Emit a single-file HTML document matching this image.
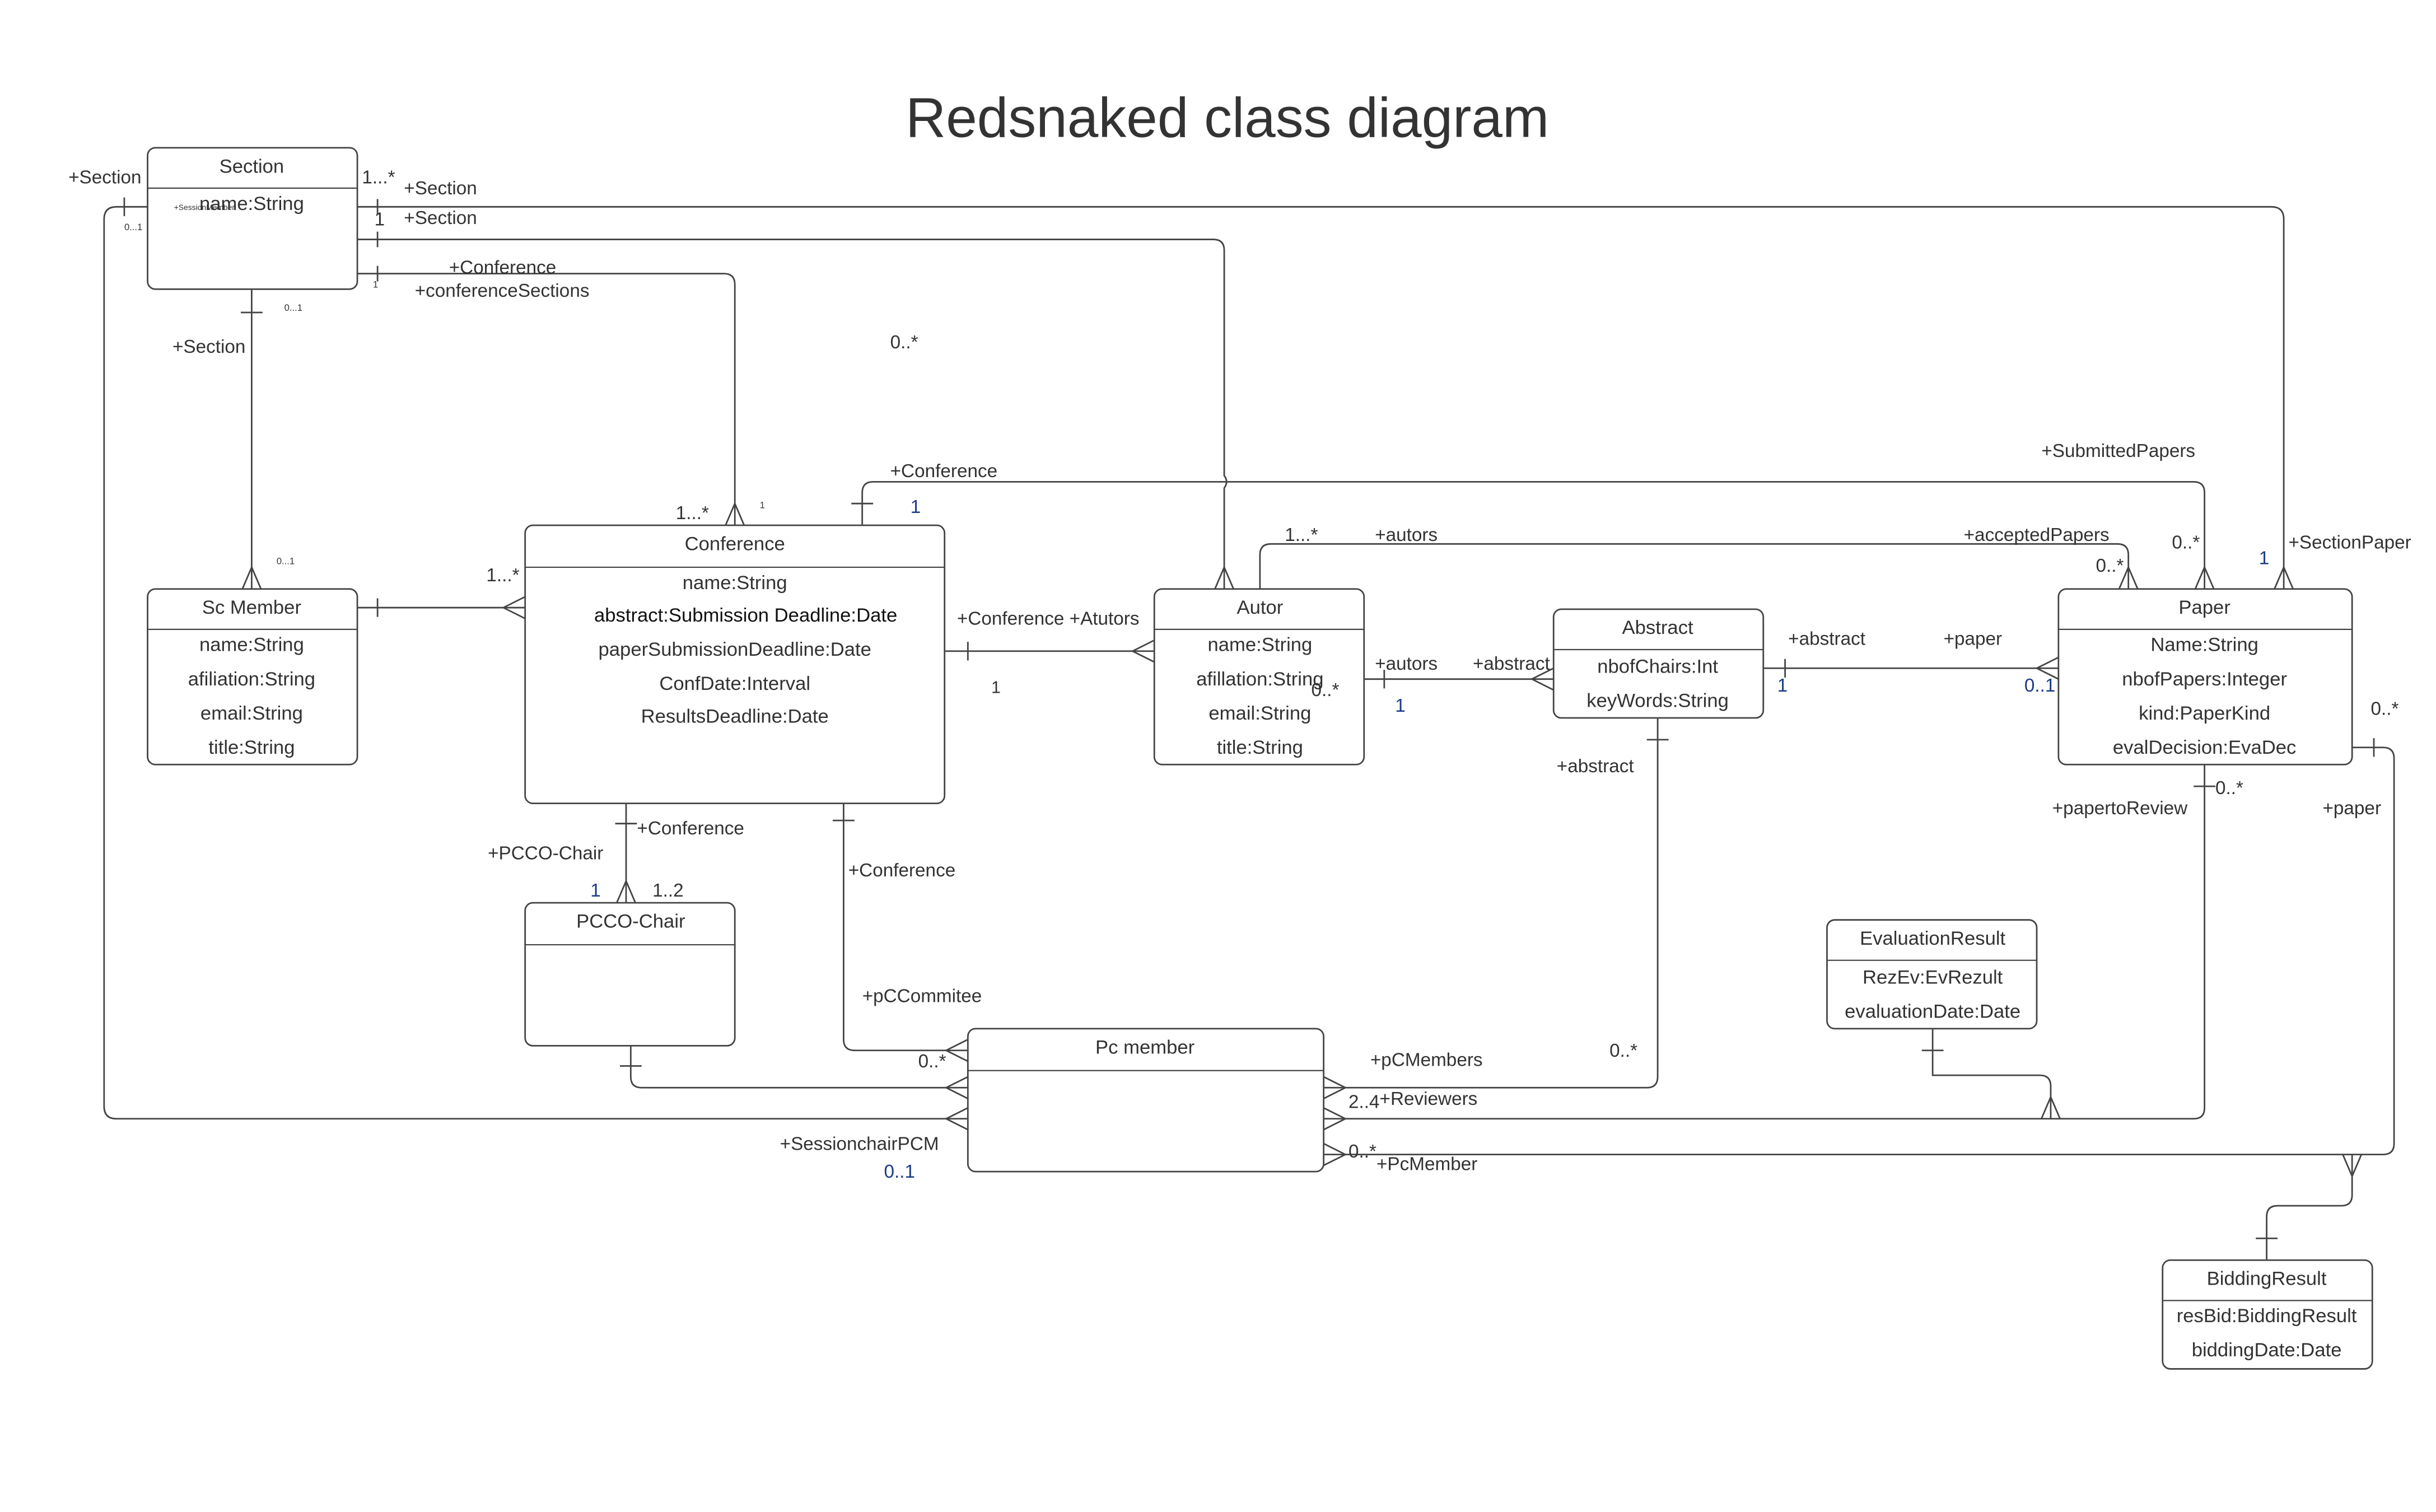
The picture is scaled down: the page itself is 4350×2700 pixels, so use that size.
<!DOCTYPE html>
<html><head><meta charset="utf-8"><style>
html,body{margin:0;padding:0;background:#fff}
svg{display:block}
text{font-family:"Liberation Sans",sans-serif;fill:#333}
</style></head><body>
<svg width="4350" height="2700" viewBox="0 0 1568 973" xmlns="http://www.w3.org/2000/svg">
<rect width="1568" height="973" fill="#fff"/>
<text x="790" y="88" font-size="36" text-anchor="middle">Redsnaked class diagram</text>
<g fill="#fff" stroke="#444" stroke-width="1">
<rect x="95" y="95" width="135" height="91" rx="5"/>
<rect x="95" y="379" width="135" height="113" rx="5"/>
<rect x="338" y="338" width="270" height="179" rx="5"/>
<rect x="338" y="581" width="135" height="92" rx="5"/>
<rect x="623" y="662" width="229" height="92" rx="5"/>
<rect x="743" y="379" width="135" height="113" rx="5"/>
<rect x="1000" y="392" width="135" height="70" rx="5"/>
<rect x="1325" y="379" width="189" height="113" rx="5"/>
<rect x="1176" y="592" width="135" height="70" rx="5"/>
<rect x="1392" y="811" width="135" height="70" rx="5"/>
</g>
<g stroke="#444" stroke-width="0.8">
<line x1="95" y1="121" x2="230" y2="121"/>
<line x1="95" y1="405" x2="230" y2="405"/>
<line x1="338" y1="365" x2="608" y2="365"/>
<line x1="338" y1="608" x2="473" y2="608"/>
<line x1="623" y1="689" x2="852" y2="689"/>
<line x1="743" y1="405" x2="878" y2="405"/>
<line x1="1000" y1="418" x2="1135" y2="418"/>
<line x1="1325" y1="405" x2="1514" y2="405"/>
<line x1="1176" y1="618" x2="1311" y2="618"/>
<line x1="1392" y1="837" x2="1527" y2="837"/>
</g>
<g font-size="12.5" text-anchor="middle">
<text x="162" y="111">Section</text>
<text x="162" y="135">name:String</text>
<text x="162" y="395">Sc Member</text>
<text x="162" y="419">name:String</text>
<text x="162" y="441">afiliation:String</text>
<text x="162" y="463">email:String</text>
<text x="162" y="485">title:String</text>
<text x="473" y="354">Conference</text>
<text x="473" y="379">name:String</text>
<text x="480" y="400" style="fill:#111">abstract:Submission Deadline:Date</text>
<text x="473" y="422">paperSubmissionDeadline:Date</text>
<text x="473" y="444">ConfDate:Interval</text>
<text x="473" y="465">ResultsDeadline:Date</text>
<text x="406" y="597">PCCO-Chair</text>
<text x="737" y="678">Pc member</text>
<text x="811" y="395">Autor</text>
<text x="811" y="419">name:String</text>
<text x="811" y="441">afillation:String</text>
<text x="811" y="463">email:String</text>
<text x="811" y="485">title:String</text>
<text x="1067" y="408">Abstract</text>
<text x="1067" y="433">nbofChairs:Int</text>
<text x="1067" y="455">keyWords:String</text>
<text x="1419" y="395">Paper</text>
<text x="1419" y="419">Name:String</text>
<text x="1419" y="441">nbofPapers:Integer</text>
<text x="1419" y="463">kind:PaperKind</text>
<text x="1419" y="485">evalDecision:EvaDec</text>
<text x="1244" y="608">EvaluationResult</text>
<text x="1244" y="633">RezEv:EvRezult</text>
<text x="1244" y="655">evaluationDate:Date</text>
<text x="1459" y="827">BiddingResult</text>
<text x="1459" y="851">resBid:BiddingResult</text>
<text x="1459" y="873">biddingDate:Date</text>
</g>
<text x="112" y="135" font-size="5">+SessionMember</text>
<g fill="none" stroke="#444" stroke-width="1">
<!-- 1 Section left to Pc member -->
<path d="M95,133 H75 Q67,133 67,141 V712 Q67,720 75,720 H623"/>
<line x1="80" y1="127" x2="80" y2="139"/>
<path d="M609,720 L623,713 M609,720 L623,727"/>
<!-- 2 Section right to Paper -->
<path d="M230,133 H1462 Q1470,133 1470,141 V379"/>
<line x1="243" y1="128" x2="243" y2="138"/>
<path d="M1470,365 L1464,379 M1470,365 L1476,379"/>
<!-- 3 Section to Autor -->
<path d="M230,154 H781 Q788,154 788,161 V306 Q791,310 788,314 V379"/>
<line x1="243" y1="149" x2="243" y2="159"/>
<path d="M788,365 L782,379 M788,365 L794,379"/>
<!-- 4 Section to Conference -->
<path d="M230,176 H466 Q473,176 473,183 V338"/>
<line x1="243" y1="171" x2="243" y2="181"/>
<path d="M473,324 L467,338 M473,324 L479,338"/>
<!-- 5 Section bottom to Sc Member -->
<path d="M162,186 V379"/>
<line x1="155" y1="201" x2="169" y2="201"/>
<path d="M162,365 L156,379 M162,365 L168,379"/>
<!-- 6 Sc Member to Conference -->
<path d="M230,391 H338"/>
<line x1="243" y1="385" x2="243" y2="397"/>
<path d="M324,391 L338,384 M324,391 L338,398"/>
<!-- 7 Conference to Paper -->
<path d="M555,338 V317 Q555,310 562,310 H1412 Q1419,310 1419,317 V379"/>
<line x1="548" y1="324" x2="562" y2="324"/>
<path d="M1419,365 L1413,379 M1419,365 L1425,379"/>
<!-- 8 Autor to Paper -->
<path d="M811,379 V357 Q811,350 818,350 H1363 Q1370,350 1370,357 V379"/>
<path d="M1370,365 L1364,379 M1370,365 L1376,379"/>
<!-- 9 Conference to Autor -->
<path d="M608,419 H743"/>
<line x1="623" y1="413" x2="623" y2="425"/>
<path d="M729,419 L743,412 M729,419 L743,426"/>
<!-- 10 Autor to Abstract -->
<path d="M878,437 H1000"/>
<line x1="891" y1="431" x2="891" y2="443"/>
<path d="M986,437 L1000,430 M986,437 L1000,444"/>
<!-- 11 Abstract to Paper -->
<path d="M1135,430 H1325"/>
<line x1="1149" y1="424" x2="1149" y2="436"/>
<path d="M1311,430 L1325,423 M1311,430 L1325,437"/>
<!-- 12 Abstract to Pc member -->
<path d="M1067,462 V693 Q1067,700 1060,700 H852"/>
<line x1="1060" y1="476" x2="1074" y2="476"/>
<path d="M866,700 L852,693 M866,700 L852,707"/>
<!-- 13 Paper to Pc member -->
<path d="M1419,492 V713 Q1419,720 1412,720 H852"/>
<line x1="1412" y1="506" x2="1426" y2="506"/>
<path d="M866,720 L852,713 M866,720 L852,727"/>
<path d="M1244,662 V692 H1313 Q1320,692 1320,699 V720"/>
<line x1="1237" y1="676" x2="1251" y2="676"/>
<path d="M1320,706 L1314,720 M1320,706 L1326,720"/>
<!-- 14 Paper to Pc member -->
<path d="M1514,481 H1534 Q1541,481 1541,488 V736 Q1541,743 1534,743 H852"/>
<line x1="1528" y1="475" x2="1528" y2="487"/>
<path d="M866,743 L852,736 M866,743 L852,750"/>
<path d="M1459,811 V783 Q1459,776 1466,776 H1507 Q1514,776 1514,769 V743"/>
<line x1="1452" y1="797" x2="1466" y2="797"/>
<path d="M1514,757 L1508,743 M1514,757 L1520,743"/>
<!-- 15 Conference to PCCO-Chair -->
<path d="M403,517 V581"/>
<line x1="396" y1="530" x2="410" y2="530"/>
<path d="M403,567 L397,581 M403,567 L409,581"/>
<!-- 16 Conference to Pc member -->
<path d="M543,517 V669 Q543,676 550,676 H623"/>
<line x1="536" y1="528" x2="550" y2="528"/>
<path d="M609,676 L623,669 M609,676 L623,683"/>
<!-- 17 PCCO-Chair to Pc member -->
<path d="M406,673 V693 Q406,700 413,700 H623"/>
<line x1="399" y1="686" x2="413" y2="686"/>
<path d="M609,700 L623,693 M609,700 L623,707"/>
</g>
<g font-size="12">
<text x="44" y="118">+Section</text>
<text x="233" y="118">1...*</text>
<text x="260" y="125">+Section</text>
<text x="241" y="145">1</text>
<text x="260" y="144">+Section</text>
<text x="289" y="176">+Conference</text>
<text x="267" y="191">+conferenceSections</text>
<text x="111" y="227">+Section</text>
<text x="573" y="224">0..*</text>
<text x="435" y="334">1...*</text>
<text x="573" y="307">+Conference</text>
<text x="586" y="330" style="fill:#1a3a8a">1</text>
<text x="1314" y="294">+SubmittedPapers</text>
<text x="827" y="348">1...*</text>
<text x="885" y="348">+autors</text>
<text x="1264" y="348">+acceptedPapers</text>
<text x="1398" y="353">0..*</text>
<text x="1349" y="368">0..*</text>
<text x="1473" y="353">+SectionPaper</text>
<text x="1454" y="363" style="fill:#1a3a8a">1</text>
<text x="313" y="374">1...*</text>
<text x="616" y="402">+Conference +Atutors</text>
<text x="638" y="446" font-size="11">1</text>
<text x="885" y="431">+autors</text>
<text x="948" y="431">+abstract</text>
<text x="844" y="448">0..*</text>
<text x="898" y="458" style="fill:#1a3a8a">1</text>
<text x="1151" y="415">+abstract</text>
<text x="1251" y="415">+paper</text>
<text x="1144" y="445" style="fill:#1a3a8a">1</text>
<text x="1303" y="445" style="fill:#1a3a8a">0..1</text>
<text x="1526" y="460">0..*</text>
<text x="1002" y="497">+abstract</text>
<text x="1321" y="524">+papertoReview</text>
<text x="1426" y="511">0..*</text>
<text x="1495" y="524">+paper</text>
<text x="314" y="553">+PCCO-Chair</text>
<text x="410" y="537">+Conference</text>
<text x="380" y="577" style="fill:#1a3a8a">1</text>
<text x="420" y="577">1..2</text>
<text x="546" y="564">+Conference</text>
<text x="555" y="645">+pCCommitee</text>
<text x="591" y="687">0..*</text>
<text x="1036" y="680">0..*</text>
<text x="882" y="686">+pCMembers</text>
<text x="868" y="713">2..4</text>
<text x="888" y="711">+Reviewers</text>
<text x="868" y="745">0..*</text>
<text x="886" y="753">+PcMember</text>
<text x="502" y="740">+SessionchairPCM</text>
<text x="569" y="758" style="fill:#1a3a8a">0..1</text>
</g>
<g font-size="6">
<text x="80" y="148">0...1</text>
<text x="183" y="200">0...1</text>
<text x="178" y="363">0...1</text>
<text x="489" y="327">1</text>
<text x="240" y="185">1</text>
</g>
</svg>
</body></html>
